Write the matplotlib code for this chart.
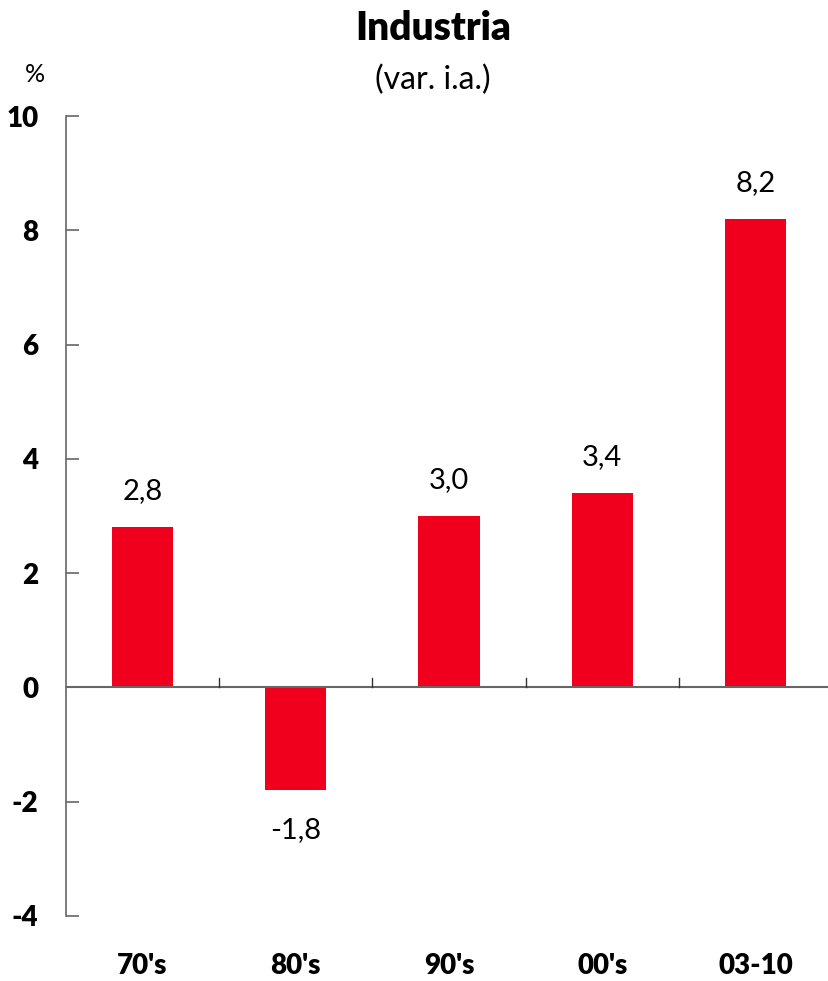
import matplotlib.pyplot as plt

# Data
categories = ["70's", "80's", "90's", "00's", "03-10"]
values = [2.8, -1.8, 3.0, 3.4, 8.2]
labels = ["2,8", "-1,8", "3,0", "3,4", "8,2"]
yticks = [-4, -2, 0, 2, 4, 6, 8, 10]

plt.rcParams['font.family'] = ['Lato', 'DejaVu Sans']

fig = plt.figure(figsize=(8.29, 9.81), dpi=100)
ax = fig.add_axes([66 / 829, 1 - 916 / 981, 1 - 66 / 829, (916 - 116) / 981])

x = range(len(categories))
ax.bar(x, values, width=0.40, color="#F0001C", zorder=2)

# Value labels
for i, (v, lab) in enumerate(zip(values, labels)):
    if v >= 0:
        ax.text(i, v + 0.63, lab, ha="center", va="center", fontsize=21)
    else:
        ax.text(i, v - 0.7, lab, ha="center", va="center", fontsize=21)

ax.set_xlim(-0.5, 4.48)
ax.set_ylim(-4, 10)

# Spines
for s in ["top", "right", "bottom"]:
    ax.spines[s].set_visible(False)
ax.spines["left"].set_color("#666666")
ax.spines["left"].set_linewidth(1.2)
ax.axhline(0, color="#666666", linewidth=1.5, zorder=3)

# Y ticks
ax.set_yticks(yticks)
ax.set_yticklabels([str(t) for t in yticks], fontsize=20, fontweight="heavy")
ax.tick_params(axis="y", direction="in", length=9, width=1.2, color="#666666", pad=20)

# X ticks between categories, drawn as small marks above the zero line
ax.set_xticks([])
for b in [0.5, 1.5, 2.5, 3.5]:
    ax.plot([b, b], [0, 0.17], color="#333333", linewidth=1.0, zorder=3)

for i, c in enumerate(categories):
    ax.text(i, -4.88, c, ha="center", va="center", fontsize=20, fontweight="heavy")

fig.text(0.522, 1 - 28 / 981, "Industria", ha="center", va="center", fontsize=28, fontweight="heavy")
fig.text(0.522, 1 - 80 / 981, "(var. i.a.)", ha="center", va="center", fontsize=23)
fig.text(35 / 829, 1 - 75 / 981, "%", ha="center", va="center", fontsize=18)

fig.savefig("out.png", dpi=100)
